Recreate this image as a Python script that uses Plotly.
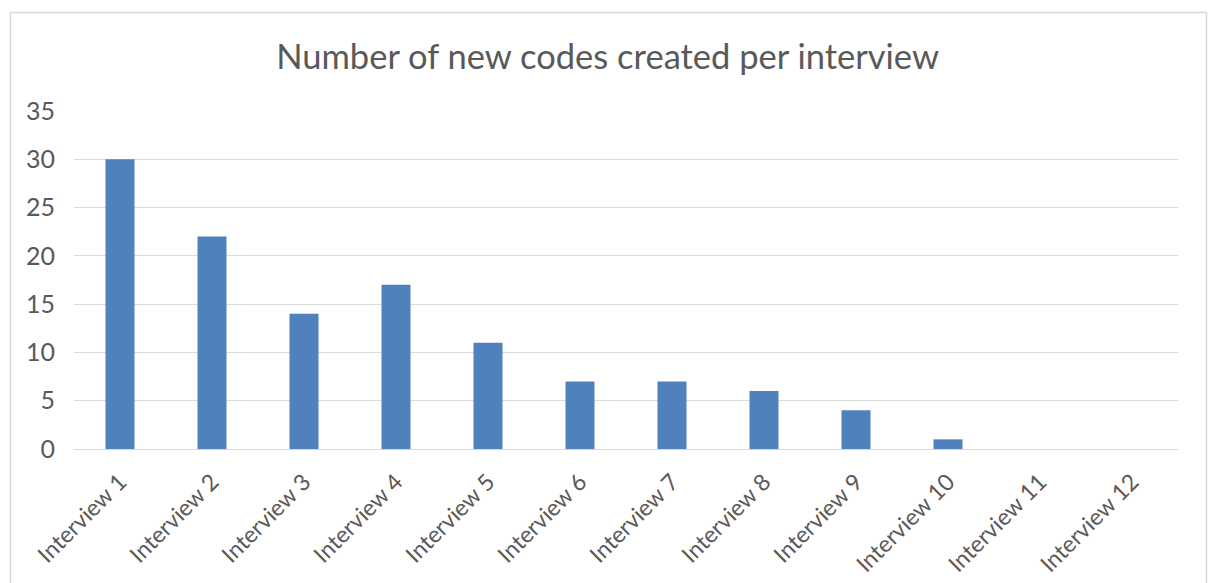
import plotly.graph_objects as go

categories = ["Interview 1", "Interview 2", "Interview 3", "Interview 4", "Interview 5", "Interview 6",
              "Interview 7", "Interview 8", "Interview 9", "Interview 10", "Interview 11", "Interview 12"]
new_codes = [30, 22, 14, 17, 11, 7, 7, 6, 4, 1, 0, 0]
y_ticks = [0, 5, 10, 15, 20, 25, 30, 35]
title_text = "Number of new codes created per interview"

W, H = 1208, 583
L, R, T, B = 74, 30, 111, 134
pw, ph = W - L - R, H - T - B

def px(x):
    return (x - L) / pw

def py(y):
    return (H - B - y) / ph

fig = go.Figure(go.Bar(x=categories, y=new_codes, marker=dict(color="#4F81BD", line=dict(width=0)),
                       hoverinfo="x+y"))

fig.update_layout(
    width=W, height=H,
    margin=dict(l=L, r=R, t=T, b=B),
    paper_bgcolor="white", plot_bgcolor="white",
    bargap=0.685,
    showlegend=False,
    font=dict(family="Lato, Open Sans, sans-serif", color="#595959", size=20),
    title=dict(text=title_text, x=0.503, xanchor="center", y=1 - 57 / H, yanchor="middle",
               font=dict(size=34.5, color="#595959", family="Lato, sans-serif")),
    xaxis=dict(tickangle=-45, showgrid=False, showline=False, ticks="", tickfont=dict(size=23),
               ticklabelstandoff=14, ticklabelshift=0, automargin=False),
    yaxis=dict(range=[0, 35], tickvals=y_ticks, showgrid=True, gridcolor="#d9d9d9", gridwidth=1,
               zeroline=True, zerolinecolor="#d9d9d9", zerolinewidth=1, showline=False, ticks="",
               ticklabelstandoff=18, tickfont=dict(size=25), automargin=False),
    shapes=[dict(type="rect", xref="paper", yref="paper", x0=px(10.5), x1=px(1206.5),
                 y0=py(600), y1=py(12.5), line=dict(color="#d9d9d9", width=1.5), layer="below")],
)

fig.write_html("out.html")
